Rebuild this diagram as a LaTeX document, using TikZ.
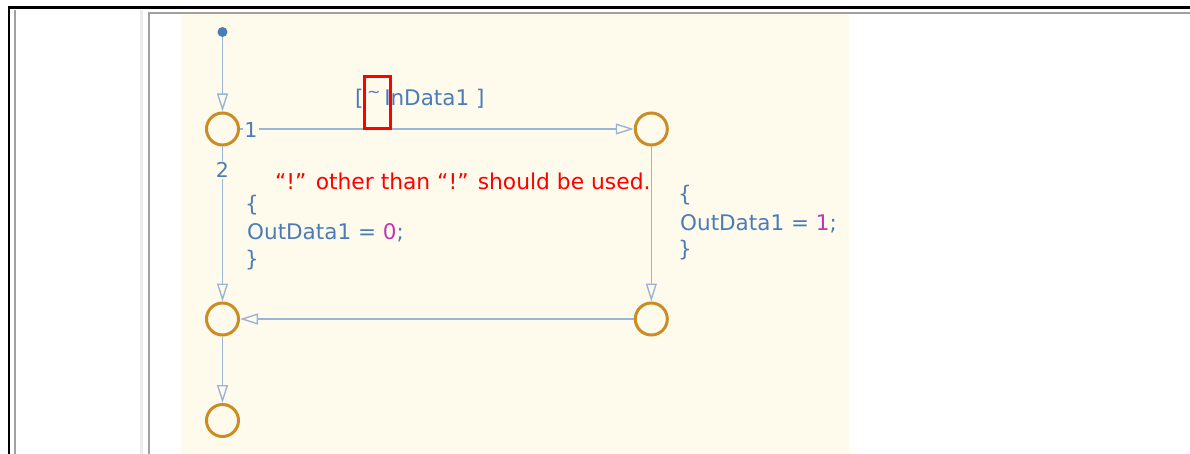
\documentclass[tikz,border=0pt]{standalone}
\usepackage{fontspec}
\usepackage{graphicx}
\setmainfont{DejaVu Sans}
\usetikzlibrary{arrows.meta}
\definecolor{bgY}{RGB}{254,251,237}
\definecolor{lineB}{RGB}{155,181,212}
\definecolor{txtB}{RGB}{74,124,184}
\definecolor{stOr}{RGB}{202,140,36}
\definecolor{numM}{RGB}{190,55,180}
\definecolor{frG}{RGB}{160,160,160}
\definecolor{frL}{RGB}{236,236,236}
\begin{document}
\begin{tikzpicture}[x=1pt,y=-1pt,
  junc/.style={circle,draw=stOr,line width=3pt,fill=bgY,minimum size=32pt,inner sep=0pt},
  trans/.style={draw=lineB,line width=1.6pt,-{Triangle[open,length=18pt,width=11pt,line width=1.4pt]}},
  codetxt/.style={text=txtB,font=\fontsize{21.5}{25}\selectfont,anchor=base west,inner sep=0pt},
  tlabel/.style={text=txtB,font=\fontsize{20.5}{24}\selectfont,fill=bgY,inner sep=1pt},
  warn/.style={text=red,font=\fontsize{21.8}{26}\selectfont,anchor=base west,inner sep=0pt},
  hilite/.style={draw=red,line width=3.2pt,minimum width=26pt,minimum height=52pt,inner sep=0pt}]
\useasboundingbox (0,0) rectangle (1190,454);
\fill[white] (0,0) rectangle (1190,454);
% frames
\draw[black,line width=2.4pt] (9,454) -- (9,7.7) -- (1190,7.7);
\draw[frG,line width=2.4pt] (15,10) -- (15,454);
\draw[frL,line width=2.8pt] (141.3,10) -- (141.3,454);
\fill[bgY] (181,13) rectangle (849,454);
\draw[frG,line width=2pt] (149,454) -- (149,12.9) -- (1190,12.9);
% junctions
\node[circle,fill=txtB,minimum size=10pt,inner sep=0pt] (dot) at (222.5,32) {};
\node[junc] (j1) at (222.5,129) {};
\node[junc] (j2) at (651.3,129) {};
\node[junc] (j3) at (651.3,319) {};
\node[junc] (j4) at (222.5,319) {};
\node[junc] (j5) at (222.5,420.5) {};
% transitions
\draw[trans] (dot) -- (j1);
\draw[trans] (j1) -- (j2);
\draw[trans] (j1) -- (j4);
\draw[trans] (j2) -- (j3);
\draw[trans] (j3) -- (j4);
\draw[trans] (j4) -- (j5);
% labels
\node[tlabel] (n1) at (251,130) {1};
\node[tlabel] (n2) at (222.5,170) {2};
\node[codetxt] (cond) at (355,106) {[\,\raisebox{0.38em}{\scalebox{0.75}{\textasciitilde}}\,InData1 ]};
\node[codetxt] (lb1) at (245,212) {\{};
\node[codetxt] (lc1) at (247,240) {OutData1 = \textcolor{numM}{0};};
\node[codetxt] (le1) at (245,266) {\}};
\node[codetxt] (lb2) at (678,202) {\{};
\node[codetxt] (lc2) at (680,230) {OutData1 = \textcolor{numM}{1};};
\node[codetxt] (le2) at (678,256) {\}};
\node[warn] (msg) at (275,190) {“!” other than “!” should be used.};
\node[hilite] (hl) at (377.2,102.5) {};
\end{tikzpicture}
\end{document}
